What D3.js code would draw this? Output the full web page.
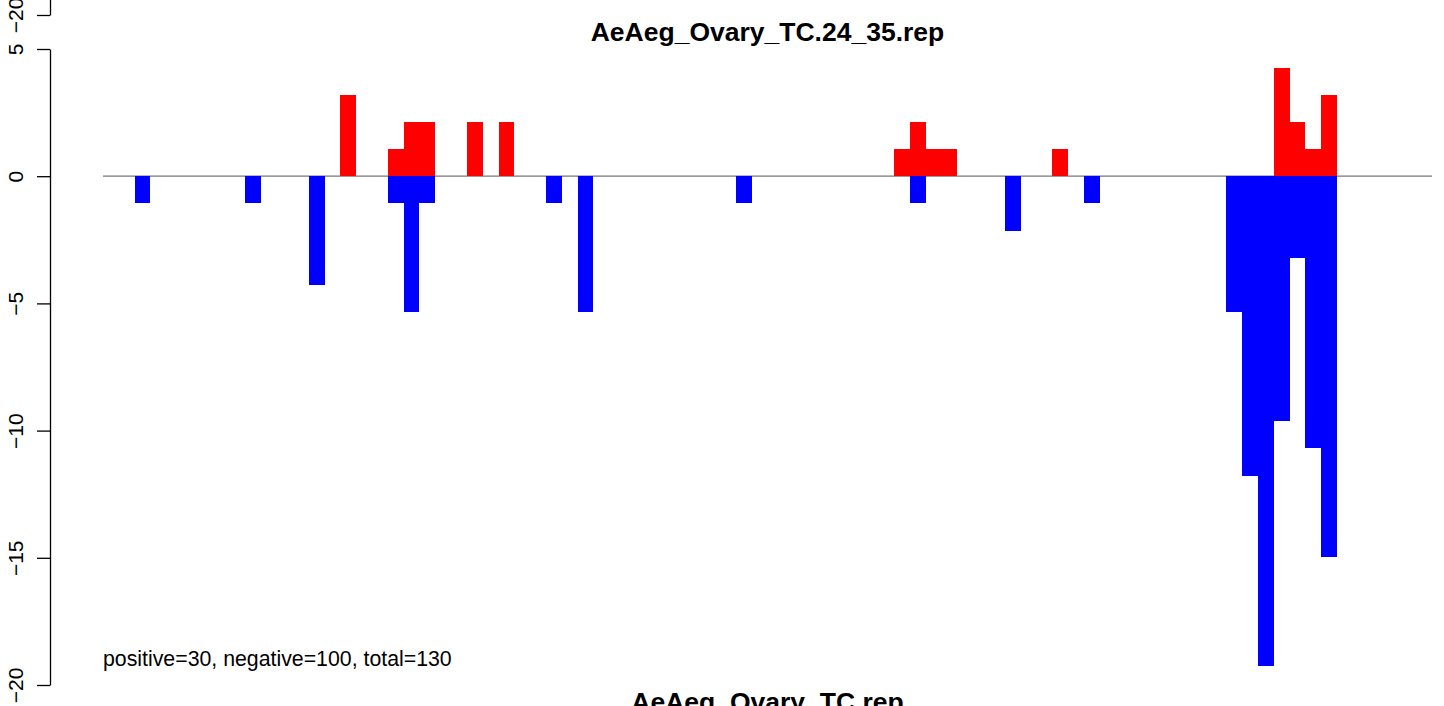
<!DOCTYPE html>
<html>
<head>
<meta charset="utf-8">
<script src="https://cdn.jsdelivr.net/npm/d3@7"></script>
<style>
  html, body { margin: 0; padding: 0; background: #fff; }
  svg { display: block; font-family: "Liberation Sans", Arial, Helvetica, sans-serif; }
</style>
</head>
<body>
<svg id="chart" width="1444" height="706"></svg>
<script>
// ---- data ----
const title = "AeAeg_Ovary_TC.24_35.rep";
const subTitle = "AeAeg_Ovary_TC.rep";
const note = "positive=30, negative=100, total=130";
const nBins = 84;
const posBins   = [15, 18, 19, 20, 23, 25, 50, 51, 52, 53, 60, 74, 75, 76, 77];
const posValues = [3.21, 1.07, 2.14, 2.14, 2.14, 2.14, 1.07, 2.14, 1.07, 1.07, 1.07, 4.26, 2.14, 1.07, 3.21];
const negBins   = [2, 9, 13, 18, 19, 20, 28, 30, 40, 51, 57, 62, 71, 72, 73, 74, 75, 76, 77];
const negValues = [-1.07, -1.07, -4.28, -1.07, -5.35, -1.07, -1.07, -5.35, -1.07, -1.07, -2.14, -1.07, -5.35, -11.77, -19.26, -9.63, -3.21, -10.7, -14.98];
const yTicks = [-20, -15, -10, -5, 0, 5];
const prevPanelTicks = [-20];

// ---- layout ----
const svg = d3.select("#chart");
const x = d3.scaleLinear().domain([0, nBins]).range([103, 1432]);
const y = d3.scaleLinear().domain([-20, 5]).range([685, 49]);
const bw = x(1) - x(0);

// baseline
svg.append("line")
  .attr("x1", x(0)).attr("x2", x(nBins))
  .attr("y1", y(0)).attr("y2", y(0))
  .attr("stroke", "#777").attr("stroke-width", 1.2);

const pos = posBins.map((b, i) => ({b, v: posValues[i]}));
const neg = negBins.map((b, i) => ({b, v: negValues[i]}));

svg.append("g").selectAll("rect").data(pos).join("rect")
  .attr("x", d => x(d.b)).attr("width", bw)
  .attr("y", d => y(d.v)).attr("height", d => y(0) - y(d.v))
  .attr("fill", "#ff0000").attr("shape-rendering", "crispEdges");

svg.append("g").selectAll("rect").data(neg).join("rect")
  .attr("x", d => x(d.b)).attr("width", bw)
  .attr("y", y(0)).attr("height", d => y(d.v) - y(0))
  .attr("fill", "#0000ff").attr("shape-rendering", "crispEdges");

// y axis
function drawAxis(offsetY, ticks) {
  const g = svg.append("g").attr("transform", `translate(50,${offsetY})`);
  const ax = d3.axisLeft(y).tickValues(ticks).tickSize(13).tickSizeOuter(0)
    .tickFormat(d => (d < 0 ? "\u2212" + Math.abs(d) : String(d)));
  g.call(ax);
  g.select(".domain").attr("stroke", "#000").attr("stroke-width", 1.3);
  g.selectAll(".tick line").attr("stroke", "#000").attr("stroke-width", 1.3);
  g.selectAll(".tick text")
    .attr("x", null).attr("dy", null)
    .attr("transform", "translate(-27,0) rotate(-90)")
    .attr("text-anchor", "middle")
    .attr("font-size", 21)
    .attr("font-family", "'Liberation Sans', Arial, sans-serif")
    .attr("fill", "#000");
}
drawAxis(0, yTicks);
drawAxis(15 - y(-20), prevPanelTicks); // fragment of the previous panel's axis at the top

// titles
svg.append("text")
  .attr("x", (x(0) + x(nBins)) / 2).attr("y", 41)
  .attr("text-anchor", "middle")
  .attr("font-size", 26.5).attr("font-weight", "bold")
  .text(title);

svg.append("text")
  .attr("x", (x(0) + x(nBins)) / 2).attr("y", 711)
  .attr("text-anchor", "middle")
  .attr("font-size", 26.5).attr("font-weight", "bold")
  .text(subTitle);

svg.append("text")
  .attr("x", 103).attr("y", 666)
  .attr("font-size", 21.3)
  .text(note);
</script>
</body>
</html>
